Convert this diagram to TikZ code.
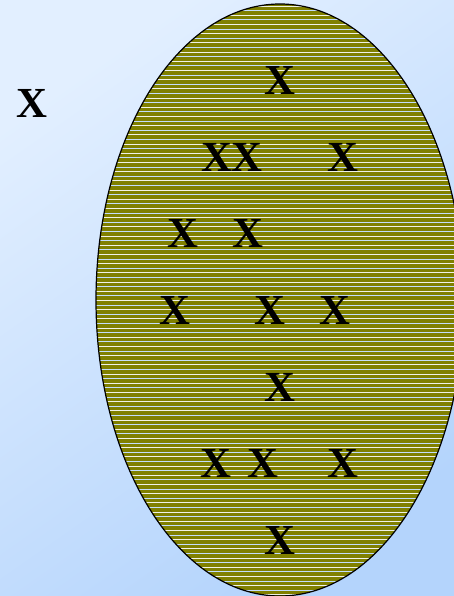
\documentclass[tikz,border=0pt]{standalone}
\usepackage{fontspec}
\setmainfont{Liberation Serif}
\definecolor{skytop}{RGB}{226,239,255}
\definecolor{skybot}{RGB}{180,212,252}
\definecolor{olivefill}{RGB}{128,128,0}
\definecolor{stripelight}{RGB}{240,242,230}
\definecolor{stripeblue}{RGB}{196,222,252}

\begin{document}
\begin{tikzpicture}[
  x=1bp, y=-1bp,
  xmark/.style={font=\fontsize{43}{43}\selectfont\bfseries, inner sep=0pt},
  stripe/.style={line width=0.85bp},
  rim/.style={draw=black, line width=1.2bp}
]
\useasboundingbox (0,0) rectangle (454,596);

% background
\shade[shading=axis, top color=skytop, bottom color=skybot, shading angle=35]
  (0,0) rectangle (454,596);

% striped set
\fill[olivefill] (280,300) ellipse [x radius=184, y radius=296];
\begin{scope}
  \clip (280,300) ellipse [x radius=184, y radius=296];
  \foreach \k in {0,...,129} {
    \ifodd\k\def\stripecol{stripeblue}\else\def\stripecol{stripelight}\fi
    \draw[stripe, draw=\stripecol] (90,{6+\k*4.6}) -- (470,{6+\k*4.6});
  }
\end{scope}
\draw[rim] (280,300) ellipse [x radius=184, y radius=296];

% the point outside
\node[xmark] (outer) at (32,103) {X};

% points inside
\node[xmark] (r1) at (280,80) {X};
\node[xmark] (r2a) at (232,157) {XX};
\node[xmark] (r2b) at (343,157) {X};
\node[xmark] (r3a) at (183,233) {X};
\node[xmark] (r3b) at (248,233) {X};
\node[xmark] (r4a) at (175,310) {X};
\node[xmark] (r4b) at (270,310) {X};
\node[xmark] (r4c) at (335,310) {X};
\node[xmark] (r5) at (280,387) {X};
\node[xmark] (r6a) at (216,463) {X};
\node[xmark] (r6b) at (263,463) {X};
\node[xmark] (r6c) at (343,463) {X};
\node[xmark] (r7) at (280,540) {X};

\end{tikzpicture}
\end{document}
